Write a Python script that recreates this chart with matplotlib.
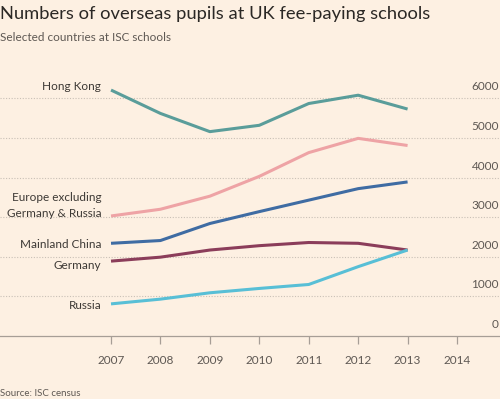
import matplotlib.pyplot as plt
import matplotlib.transforms as mtransforms

years = [2007, 2008, 2009, 2010, 2011, 2012, 2013]
hong_kong = [6210, 5620, 5160, 5320, 5870, 6080, 5730]
europe_ex = [3030, 3200, 3530, 4030, 4630, 4990, 4810]
mainland_china = [2340, 2410, 2840, 3140, 3430, 3720, 3890]
germany = [1890, 1990, 2170, 2280, 2360, 2340, 2170]
russia = [810, 930, 1090, 1200, 1300, 1750, 2170]

x_ticks = [2007, 2008, 2009, 2010, 2011, 2012, 2013, 2014]
y_ticks = [0, 1000, 2000, 3000, 4000, 5000, 6000]

series = [
    ("Hong Kong", hong_kong, "#5a9d9a", 6310),
    ("Europe excluding\nGermany & Russia", europe_ex, "#eea3a5", 3300),
    ("Mainland China", mainland_china, "#3f6ca3", 2320),
    ("Germany", germany, "#8b3d5a", 1770),
    ("Russia", russia, "#58bfd6", 780),
]

bg = "#fdf0e2"
plt.rcParams['font.family'] = ['Lato', 'DejaVu Sans']

fig = plt.figure(figsize=(5, 3.99), dpi=100, facecolor=bg)
ax = fig.add_axes([0, 0.158, 1, 0.654], facecolor=bg)

for name, vals, col, ly in series:
    ax.plot(years, vals, color=col, lw=2.2, solid_capstyle='butt', zorder=3)
    ax.annotate(name, xy=(years[0], ly), xytext=(-7, 0), textcoords='offset points',
                ha='right', va='center', fontsize=8.5, color='#3d3935',
                multialignment='right', linespacing=1.55)

ax.set_xlim(2004.754, 2014.87)
ax.set_ylim(0, 6590)

for v in y_ticks[1:]:
    ax.axhline(v, color='#c9c0b6', lw=0.8, ls=(0, (1, 1.5)), zorder=1)

trans = mtransforms.blended_transform_factory(ax.transAxes, ax.transData)
for v in y_ticks:
    ax.text(0.998, v + 150, str(v), transform=trans, ha='right', va='bottom',
            fontsize=8.5, color='#5e5853')

for s in ['top', 'right', 'left']:
    ax.spines[s].set_visible(False)
ax.spines['bottom'].set_color('#a79e96')
ax.spines['bottom'].set_linewidth(0.9)
ax.set_yticks([])
ax.set_xticks(x_ticks)
ax.set_xticklabels([str(x) for x in x_ticks])
ax.tick_params(axis='x', length=6, width=0.9, color='#a79e96', pad=8,
               labelsize=8.5, labelcolor='#5e5853')

fig.text(0.0, 0.965, "Numbers of overseas pupils at UK fee-paying schools",
         fontsize=13.2, color='#2b2825', ha='left', va='center')
fig.text(0.0, 0.907, "Selected countries at ISC schools",
         fontsize=8.5, color='#5e5853', ha='left', va='center')
fig.text(0.0, 0.015, "Source: ISC census", fontsize=7, color='#5e5853',
         ha='left', va='center')

fig.savefig("out.png", dpi=100, facecolor=bg)
